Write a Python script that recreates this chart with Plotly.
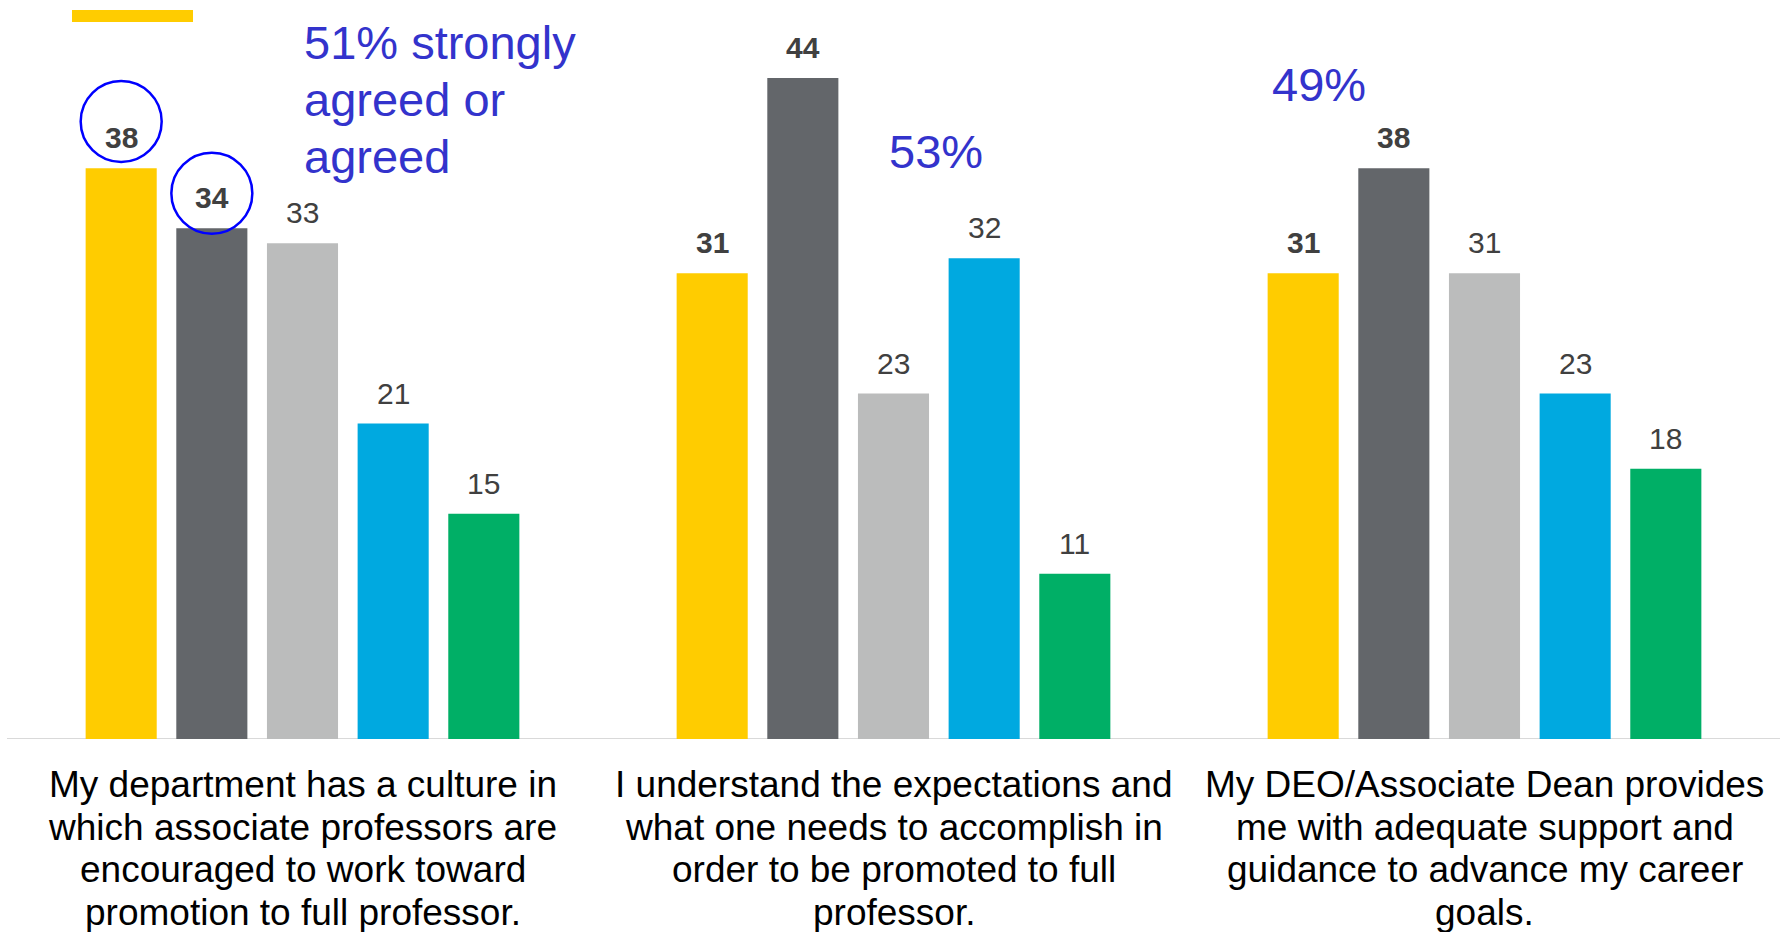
import plotly.graph_objects as go

# Survey items (one group of bars each)
categories = ["Q1", "Q2", "Q3"]
category_lines = [
    ["My department has a culture in", "which associate professors are",
     "encouraged to work toward", "promotion to full professor."],
    ["I understand the expectations and", "what one needs to accomplish in",
     "order to be promoted to full", "professor."],
    ["My DEO/Associate Dean provides", "me with adequate support and",
     "guidance to advance my career", "goals."],
]

# Five respondent groups per item
series_names = ["Group A", "Group B", "Group C", "Group D", "Group E"]
series_values = [
    [38, 31, 31],
    [34, 44, 38],
    [33, 23, 31],
    [21, 32, 23],
    [15, 11, 18],
]
series_colors = ["#FFCC00", "#63666A", "#BBBCBC", "#00A9E0", "#00AF66"]
series_bold = [True, True, False, False, False]

# Share that strongly agreed or agreed, per item
agree_notes = [["51% strongly", "agreed or", "agreed"], ["53%"], ["49%"]]

FONT = "Liberation Sans, Arial, sans-serif"
W, H = 1787, 932
ML, MR, MT, MB = 7, 7, 0, 193
PW, PH = W - ML - MR, H - MT - MB
Y_MAX = 49.2
BARGAP, GROUPGAP = 0.233, 0.216
slot = (1 - BARGAP) / len(series_names)


def px_to_paper(px, py):
    return (px - ML) / PW, (H - MB - py) / PH


fig = go.Figure()
for name, vals, col in zip(series_names, series_values, series_colors):
    fig.add_trace(go.Bar(
        x=list(range(len(categories))), y=vals, name=name,
        marker=dict(color=col, line=dict(width=0)),
        showlegend=False, hoverinfo="skip",
    ))

annotations = []
# Value labels above each bar
for i, (vals, bold) in enumerate(zip(series_values, series_bold)):
    for c, v in enumerate(vals):
        txt = f"<b>{v}</b>" if bold else str(v)
        annotations.append(dict(
            x=c + (i - 2) * slot, y=v, xref="x", yref="y",
            text=txt, showarrow=False, yanchor="bottom", yshift=12,
            font=dict(family=FONT, size=30, color="#404040"),
        ))

# Category labels, one annotation per line
line_baselines = [796.8, 839.5, 882.2, 924.9]
for c, lines in enumerate(category_lines):
    for ln, base in zip(lines, line_baselines):
        _, yp = px_to_paper(0, base - 0.33 * 37)
        annotations.append(dict(
            x=c, y=yp, xref="x", yref="paper", text=ln, showarrow=False,
            xanchor="center", yanchor="middle",
            font=dict(family=FONT, size=37, color="#000000"),
        ))

# Agreement notes
note_pos = [(301.5, [58.4, 115.2, 172.2]), (886.5, [166.7]), (1269.5, [100.4])]
for lines, (left, bases) in zip(agree_notes, note_pos):
    for ln, base in zip(lines, bases):
        xp, yp = px_to_paper(left, base - 0.33 * 47)
        annotations.append(dict(
            x=xp, y=yp, xref="paper", yref="paper", text=ln, showarrow=False,
            xanchor="left", yanchor="middle",
            font=dict(family=FONT, size=47, color="#3333CC"),
        ))

shapes = []
# Highlight circles around the first two value labels
px_per_x = PW / 3
px_per_y = PH / Y_MAX
for i, cy_off in [(0, 3.11), (1, 2.33)]:
    cx = 0 + (i - 2) * slot
    cy = series_values[i][0] + cy_off
    rx = 40.5 / px_per_x
    ry = 40.5 / px_per_y
    shapes.append(dict(
        type="circle", xref="x", yref="y",
        x0=cx - rx, x1=cx + rx, y0=cy - ry, y1=cy + ry,
        line=dict(color="#0000FF", width=2.5), fillcolor="rgba(0,0,0,0)",
    ))

# Short yellow key line at top left
x0p, y0p = px_to_paper(72, 22)
x1p, y1p = px_to_paper(193, 10)
shapes.append(dict(
    type="rect", xref="paper", yref="paper", x0=x0p, x1=x1p, y0=y0p, y1=y1p,
    fillcolor="#FFCC00", line=dict(width=0),
))

# Baseline along the bottom of the bars
shapes.append(dict(
    type="line", xref="paper", yref="y", x0=0, x1=1, y0=0, y1=0,
    line=dict(color="#D9D9D9", width=2), layer="below",
))

fig.update_layout(
    width=W, height=H,
    margin=dict(l=ML, r=MR, t=MT, b=MB, pad=0),
    paper_bgcolor="white", plot_bgcolor="white",
    barmode="group", bargap=BARGAP, bargroupgap=GROUPGAP,
    xaxis=dict(range=[-0.5, 2.5], showticklabels=False, showgrid=False,
               zeroline=False, showline=False, ticks=""),
    yaxis=dict(range=[0, Y_MAX], visible=False, showgrid=False, zeroline=False),
    annotations=annotations, shapes=shapes,
    font=dict(family=FONT),
)

fig.write_html("out.html")
